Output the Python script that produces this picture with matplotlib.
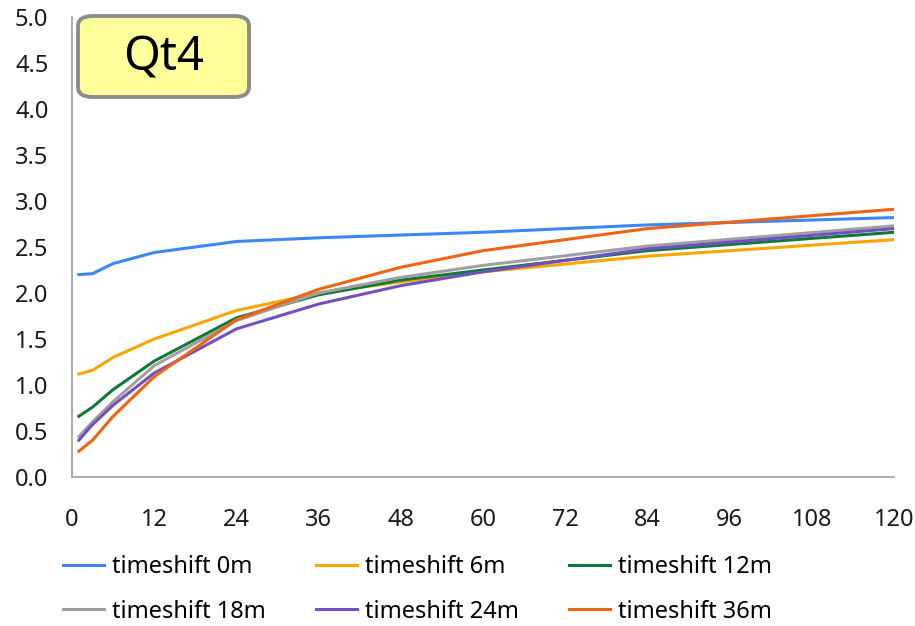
import matplotlib
matplotlib.use('Agg')
import matplotlib.pyplot as plt
from matplotlib.patches import FancyBboxPatch

plt.rcParams['font.family'] = ['Noto Sans', 'DejaVu Sans']

# maturities in months
months = [1, 3, 6, 12, 24, 36, 48, 60, 84, 120]

# yields per timeshift
ts_0m = [2.20, 2.21, 2.32, 2.44, 2.56, 2.60, 2.63, 2.66, 2.74, 2.82]
ts_6m = [1.12, 1.16, 1.30, 1.50, 1.81, 2.00, 2.12, 2.23, 2.40, 2.58]
ts_12m = [0.66, 0.76, 0.95, 1.26, 1.73, 1.98, 2.14, 2.25, 2.46, 2.66]
ts_18m = [0.44, 0.60, 0.82, 1.21, 1.70, 2.00, 2.17, 2.30, 2.51, 2.73]
ts_24m = [0.40, 0.57, 0.78, 1.13, 1.61, 1.88, 2.08, 2.23, 2.48, 2.70]
ts_36m = [0.28, 0.40, 0.66, 1.09, 1.71, 2.04, 2.28, 2.46, 2.70, 2.91]

series = [
    ('timeshift 0m', ts_0m, '#3a87f5'),
    ('timeshift 6m', ts_6m, '#f9a602'),
    ('timeshift 12m', ts_12m, '#0e7a39'),
    ('timeshift 18m', ts_18m, '#a0a0a0'),
    ('timeshift 24m', ts_24m, '#7350c2'),
    ('timeshift 36m', ts_36m, '#ef6410'),
]

fig = plt.figure(figsize=(9.15, 6.26), dpi=100)
ax = fig.add_axes([72 / 915, 1 - 477 / 626, (894 - 72) / 915, (477 - 17) / 626])

lines = []
for label, vals, col in series:
    ln, = ax.plot(months, vals, color=col, lw=2.2, label=label)
    lines.append(ln)

ax.set_xlim(0, 120)
ax.set_ylim(0, 5)
ax.set_xticks(range(0, 121, 12))
ax.set_yticks([i * 0.5 for i in range(11)])
ax.set_yticklabels(['%.1f' % (i * 0.5) for i in range(11)])
ax.tick_params(length=0, labelsize=17, colors='#1a1a1a')
ax.tick_params(axis='x', pad=22)
ax.tick_params(axis='y', pad=17)
for s in ['top', 'right']:
    ax.spines[s].set_visible(False)
for s in ['left', 'bottom']:
    ax.spines[s].set_color('#a6a6a6')
    ax.spines[s].set_linewidth(1.3)

# title box
box = FancyBboxPatch((78 / 915, 1 - 97 / 626), (249 - 78) / 915, (97 - 16) / 626,
                     boxstyle='round,pad=0,rounding_size=0.016',
                     transform=fig.transFigure, facecolor='#ffff9c',
                     edgecolor='#8c8c8c', linewidth=2.8)
fig.patches.append(box)
fig.text(164 / 915, 1 - 58 / 626, 'Qt4', fontsize=34, ha='center', va='center')

# legend: three columns, two rows each, filled row by row
col_x = [63, 316, 569]
for c in range(3):
    idx = [c, c + 3]
    fig.legend([lines[i] for i in idx], [series[i][0] for i in idx],
               loc='upper left', bbox_to_anchor=(col_x[c] / 915, 1 - 555 / 626),
               frameon=False, fontsize=17, handlelength=1.75, handletextpad=0.32,
               borderpad=0, borderaxespad=0, labelspacing=0.87)

fig.savefig('out.png', dpi=100)
